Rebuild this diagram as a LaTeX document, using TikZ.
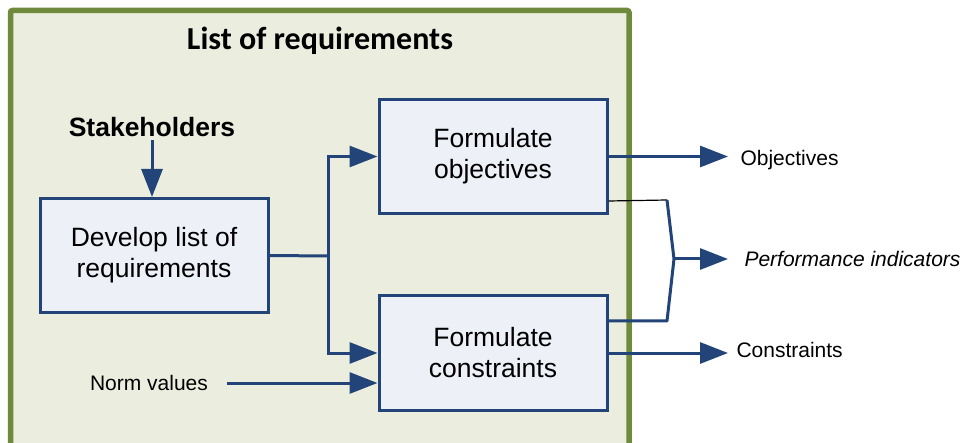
\documentclass[tikz,border=0pt]{standalone}
\usepackage{fontspec}
\setmainfont{Liberation Sans}
\newfontfamily\titlefont{Carlito}
\usetikzlibrary{arrows.meta}
\definecolor{framegreen}{HTML}{6F8A3C}
\definecolor{panelgreen}{HTML}{EBEEDE}
\definecolor{navy}{HTML}{224478}
\definecolor{boxfill}{HTML}{EDF0F6}
\tikzset{
  taskbox/.style={draw=navy, line width=3pt, fill=boxfill, minimum width=228pt,
    minimum height=114pt, align=center, font=\fontsize{26.5}{31}\selectfont},
  flow/.style={draw=navy, line width=3pt, -{Triangle[length=28pt,width=21pt]}},
  link/.style={draw=navy, line width=3pt, line join=round},
  outlabel/.style={font=\fontsize{21}{25}\selectfont, anchor=west},
}
\begin{document}
\begin{tikzpicture}[x=1pt, y=-1pt]
    \clip (0,0) rectangle (963,443);
    \fill[white] (0,0) rectangle (963,443);
    \draw[framegreen, fill=panelgreen, line width=5.5pt, rounded corners=2pt]
      (10.5,470) -- (10.5,10.5) -- (629,10.5) -- (629,470);
    \node (title) at (320,41) {\titlefont\bfseries\fontsize{32}{38}\selectfont List of requirements};
    \node[font=\bfseries\fontsize{26.5}{31}\selectfont] (stake) at (152,127) {Stakeholders};
    \node[taskbox] (dev) at (154,255.5) {Develop list of\\requirements};
    \node[taskbox] (obj) at (493,156.5) {Formulate\\objectives};
    \node[taskbox] (con) at (493,353) {Formulate\\constraints};
    \node[font=\fontsize{21}{25}\selectfont] (norm) at (149,383) {Norm values};
    \node[outlabel] (objlbl) at (737,160) {Objectives};
    \node[outlabel] (perflbl) at (741,259) {\itshape Performance indicators};
    \node[outlabel] (conlbl) at (733,350) {Constraints};
    \coordinate (split) at (328,256);
    \coordinate (brtop) at (667,200);
    \coordinate (brtip) at (674,259);
    \coordinate (brbot) at (667,321);
    \draw[flow] (stake.south) -- (dev.north -| stake.south);
    \draw[link] (dev.east) -- (split);
    \draw[flow] (split) |- (obj.west);
    \draw[flow] (split) |- (con.west);
    \draw[flow, shorten <=16pt] (norm.east) -- (con.west |- norm.east);
    \draw[flow, shorten >=9pt] (obj.east) -- (obj.east -| objlbl.west);
    \draw[flow, shorten >=5pt] (con.east) -- (con.east -| conlbl.west);
    \draw[flow, shorten >=13pt] (brtip) -- (brtip -| perflbl.west);
    \draw[black, line width=1.2pt] (obj.south east) ++(0,-14) -- (brtop);
    \draw[link] (brtop) -- (brtip) -- (brbot) -- (con.north east |- brbot);
\end{tikzpicture}
\end{document}
